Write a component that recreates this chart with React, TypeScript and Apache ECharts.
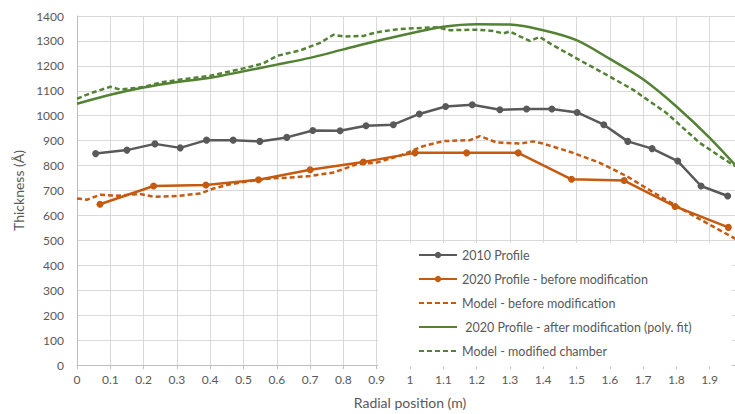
import React, { useEffect, useRef } from "react";
import * as echarts from "echarts";

const seriesNames = [
  "2010 Profile",
  "2020 Profile - before modification",
  "Model - before modification",
  " 2020 Profile - after modification (poly. fit)",
  "Model - modified chamber",
];

const profile2010X = [0.056, 0.15, 0.234, 0.31, 0.389, 0.469, 0.549, 0.63, 0.708, 0.79, 0.868, 0.95, 1.028, 1.107, 1.187, 1.27, 1.35, 1.426, 1.502, 1.582, 1.654, 1.727, 1.804, 1.874, 1.954];
const profile2010Y = [848, 862, 887, 871, 902, 902, 897, 913, 941, 940, 960, 964, 1007, 1037, 1044, 1024, 1027, 1027, 1013, 964, 897, 868, 818, 718, 678];

const before2020X = [0.069, 0.23, 0.387, 0.545, 0.7, 0.86, 1.015, 1.17, 1.325, 1.485, 1.643, 1.796, 1.956];
const before2020Y = [645, 718, 722, 743, 783, 814, 851, 851, 851, 745, 740, 636, 552];

const modelBeforeX = [0, 0.03, 0.07, 0.12, 0.19, 0.23, 0.3, 0.37, 0.41, 0.46, 0.52, 0.58, 0.64, 0.7, 0.77, 0.84, 0.9, 0.97, 1.04, 1.1, 1.18, 1.21, 1.26, 1.33, 1.37, 1.4, 1.49, 1.57, 1.65, 1.73, 1.8, 1.87, 1.96, 2.0];
const modelBeforeY = [668, 663, 683, 679, 686, 675, 678, 688, 708, 725, 738, 748, 752, 758, 772, 805, 812, 840, 878, 898, 902, 918, 893, 888, 897, 888, 851, 811, 758, 693, 638, 585, 519, 490];

const after2020X = [0, 0.1, 0.2, 0.3, 0.4, 0.5, 0.6, 0.7, 0.8, 0.9, 1.0, 1.1, 1.2, 1.3, 1.4, 1.5, 1.6, 1.7, 1.8, 1.9, 2.0];
const after2020Y = [1048, 1084, 1113, 1135, 1152, 1178, 1205, 1232, 1266, 1300, 1330, 1357, 1367, 1366, 1343, 1303, 1228, 1146, 1037, 911, 768];

const modelModX = [0, 0.04, 0.1, 0.13, 0.2, 0.25, 0.3, 0.4, 0.45, 0.5, 0.56, 0.6, 0.67, 0.73, 0.77, 0.8, 0.86, 0.9, 0.97, 1.08, 1.12, 1.2, 1.25, 1.28, 1.3, 1.33, 1.36, 1.39, 1.42, 1.5, 1.6, 1.67, 1.77, 1.87, 1.96, 2.0];
const modelModY = [1068, 1090, 1116, 1105, 1115, 1133, 1143, 1160, 1175, 1190, 1210, 1240, 1262, 1292, 1325, 1318, 1320, 1335, 1348, 1355, 1343, 1345, 1340, 1330, 1338, 1318, 1300, 1316, 1290, 1230, 1157, 1104, 1011, 891, 811, 780];

const GRAY = "#595959";
const ORANGE = "#C55A11";
const GREEN = "#548235";
const FONT = "Lato, 'Open Sans', sans-serif";

const zip = (xs: number[], ys: number[]) => xs.map((x, i) => [x, ys[i]]);

export default function App() {
  const ref = useRef<HTMLDivElement>(null);
  useEffect(() => {
    if (!ref.current) return;
    const chart = echarts.init(ref.current, undefined, { renderer: "svg" });
    chart.setOption({
      animation: false,
      backgroundColor: "#fff",
      textStyle: { fontFamily: FONT },
      grid: { left: 77, right: 0, top: 16, bottom: 47, containLabel: false },
      legend: {
        orient: "vertical",
        left: 378,
        top: 243,
        padding: [5.5, 40, 9, 40],
        itemWidth: 38,
        itemHeight: 8,
        itemGap: 11,
        backgroundColor: "#fff",
        textStyle: { color: GRAY, fontSize: 12.5, fontFamily: FONT },
        data: [
          { name: seriesNames[0] },
          { name: seriesNames[1] },
          { name: seriesNames[2], itemStyle: { opacity: 0 } },
          { name: seriesNames[3], itemStyle: { opacity: 0 } },
          { name: seriesNames[4], itemStyle: { opacity: 0 } },
        ],
      },
      xAxis: {
        type: "value",
        min: 0,
        max: 2,
        interval: 0.1,
        name: "Radial position (m)",
        nameLocation: "middle",
        nameGap: 30,
        nameTextStyle: { color: GRAY, fontSize: 14, fontFamily: FONT },
        axisLine: { show: true, lineStyle: { color: "#bfbfbf" } },
        axisTick: { show: true, length: 4, lineStyle: { color: "#bfbfbf" } },
        axisLabel: {
          color: GRAY,
          fontSize: 12,
          fontFamily: FONT,
          margin: 8,
          showMaxLabel: false,
          formatter: (v: number) => String(Number(v.toFixed(1))),
        },
        splitLine: { show: true, lineStyle: { color: "#d9d9d9", width: 1 } },
      },
      yAxis: {
        type: "value",
        min: 0,
        max: 1400,
        interval: 100,
        name: "Thickness (Å)",
        nameLocation: "middle",
        nameGap: 45,
        nameTextStyle: { color: GRAY, fontSize: 14, fontFamily: FONT },
        axisLine: { show: true, lineStyle: { color: "#bfbfbf" } },
        axisTick: { show: false },
        axisLabel: {
          color: GRAY,
          fontSize: 12,
          fontFamily: FONT,
          margin: 13,
          formatter: (v: number) => String(v),
        },
        splitLine: { show: true, lineStyle: { color: "#d9d9d9", width: 1 } },
      },
      series: [
        {
          name: seriesNames[0],
          type: "line",
          data: zip(profile2010X, profile2010Y),
          symbol: "circle",
          symbolSize: 7,
          itemStyle: { color: GRAY },
          lineStyle: { color: GRAY, width: 2.5 },
          z: 5,
        },
        {
          name: seriesNames[1],
          type: "line",
          data: zip(before2020X, before2020Y),
          symbol: "circle",
          symbolSize: 7,
          itemStyle: { color: ORANGE },
          lineStyle: { color: ORANGE, width: 2.5 },
          z: 4,
        },
        {
          name: seriesNames[2],
          type: "line",
          data: zip(modelBeforeX, modelBeforeY),
          symbol: "none",
          itemStyle: { color: ORANGE },
          lineStyle: { color: ORANGE, width: 2.5, type: [5, 3] },
          z: 3,
        },
        {
          name: seriesNames[3],
          type: "line",
          data: zip(after2020X, after2020Y),
          symbol: "none",
          smooth: 0.3,
          itemStyle: { color: GREEN },
          lineStyle: { color: GREEN, width: 2.5 },
          z: 3,
        },
        {
          name: seriesNames[4],
          type: "line",
          data: zip(modelModX, modelModY),
          symbol: "none",
          itemStyle: { color: GREEN },
          lineStyle: { color: GREEN, width: 2.5, type: [5, 3] },
          z: 3,
        },
      ],
    });
    return () => chart.dispose();
  }, []);
  return (
    <div
      style={{ position: "fixed", left: 0, top: 0, width: 735, height: 414, overflow: "hidden", background: "#fff" }}
    >
      <div ref={ref} style={{ width: 743, height: 414 }} />
    </div>
  );
}
